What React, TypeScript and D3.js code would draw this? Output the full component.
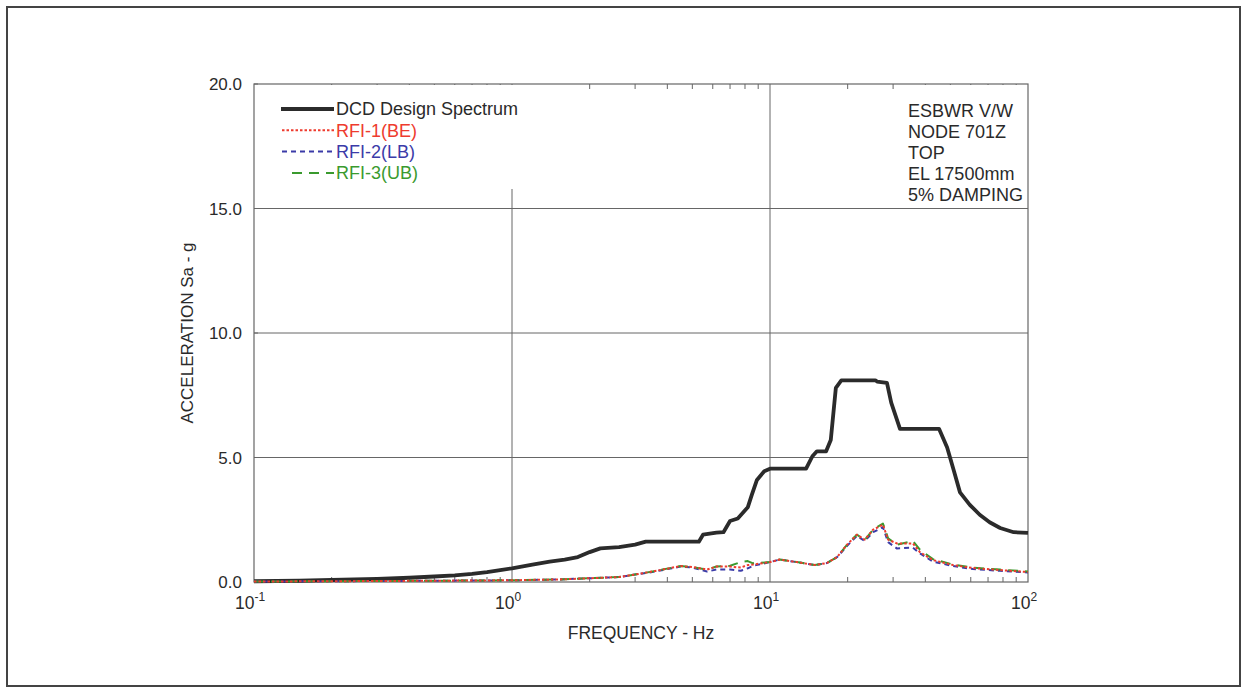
import React from "react";
import * as d3 from "d3";

const W = 1242;
const H = 688;

const xTickExps = [-1, 0, 1, 2];
const yTicks = [0, 5, 10, 15, 20];
const yTickLabels = ["0.0", "5.0", "10.0", "15.0", "20.0"];

const dcdFreq = [0.1, 0.15, 0.2, 0.3, 0.4, 0.5, 0.6, 0.7, 0.8, 0.9, 1.0, 1.2, 1.4, 1.6, 1.8, 2.0, 2.2, 2.6, 3.0, 3.3, 5.3, 5.5, 6.2, 6.6, 7.0, 7.5, 8.2, 8.5, 8.9, 9.5, 10, 13.8, 14.6, 15.2, 16.5, 17.2, 18.0, 18.9, 25.6, 26, 28.4, 29.5, 31.9, 45.2, 48.6, 51.5, 54.5, 59.5, 65, 71, 78, 88, 100];
const dcdValues = [0.03, 0.05, 0.08, 0.12, 0.17, 0.22, 0.27, 0.33, 0.4, 0.48, 0.55, 0.7, 0.82, 0.9, 1.0, 1.2, 1.35, 1.4, 1.5, 1.62, 1.62, 1.9, 1.98, 2.0, 2.45, 2.55, 3.0, 3.5, 4.1, 4.45, 4.55, 4.55, 5.05, 5.25, 5.25, 5.7, 7.8, 8.1, 8.1, 8.05, 8.0, 7.2, 6.15, 6.15, 5.4, 4.5, 3.6, 3.1, 2.7, 2.4, 2.17, 2.0, 1.97];

const rfiFreq = [0.1, 0.2, 0.3, 0.5, 0.7, 1.0, 1.5, 2.0, 2.6, 3.0, 3.5, 4.5, 5.0, 5.7, 6.2, 7.0, 7.7, 8.2, 8.6, 10, 10.9, 12.7, 14.9, 16.6, 18.2, 19.9, 21.7, 23.3, 25.1, 27.4, 28.7, 31, 35.8, 38.1, 42.8, 51.2, 61.2, 77.9, 100];
const rfi1Values = [0.02, 0.03, 0.04, 0.05, 0.06, 0.07, 0.1, 0.15, 0.2, 0.3, 0.42, 0.64, 0.6, 0.5, 0.62, 0.62, 0.58, 0.68, 0.7, 0.8, 0.9, 0.8, 0.68, 0.76, 1.0, 1.5, 1.9, 1.7, 2.1, 2.3, 1.7, 1.55, 1.55, 1.2, 0.88, 0.68, 0.56, 0.48, 0.4];
const rfi2Values = [0.02, 0.03, 0.04, 0.05, 0.06, 0.07, 0.1, 0.15, 0.2, 0.3, 0.4, 0.62, 0.58, 0.42, 0.5, 0.5, 0.45, 0.55, 0.65, 0.8, 0.9, 0.8, 0.68, 0.76, 1.0, 1.45, 1.85, 1.65, 2.0, 2.2, 1.6, 1.35, 1.38, 1.15, 0.82, 0.64, 0.52, 0.45, 0.38];
const rfi3Values = [0.02, 0.03, 0.04, 0.05, 0.06, 0.07, 0.1, 0.15, 0.2, 0.3, 0.42, 0.64, 0.6, 0.5, 0.62, 0.65, 0.8, 0.84, 0.75, 0.8, 0.9, 0.8, 0.68, 0.76, 1.0, 1.5, 1.9, 1.7, 2.1, 2.35, 1.75, 1.5, 1.65, 1.3, 0.92, 0.7, 0.58, 0.5, 0.42];

const legendLabels = ["DCD Design Spectrum", "RFI-1(BE)", "RFI-2(LB)", "RFI-3(UB)"];
const infoLines = ["ESBWR V/W", "NODE 701Z", "TOP", "EL 17500mm", "5% DAMPING"];

const FONT = "'Liberation Sans', Arial, sans-serif";
const TXT = "#2a2a2a";

export default function App() {
  const x0 = 254, x1 = 1028, y0 = 582, y1 = 84;
  const x = d3.scaleLog().domain([0.1, 100]).range([x0, x1]);
  const y = d3.scaleLinear().domain([0, 20]).range([y0, y1]);

  const mk = (fs: number[], vs: number[]) =>
    d3.line<number>().x((_, i) => x(fs[i])).y((v) => y(v)).curve(d3.curveLinear)(vs) || "";

  const minor: number[] = [];
  for (let e = -1; e < 2; e++) for (let k = 2; k <= 9; k++) minor.push(k * Math.pow(10, e));

  const series = [
    { d: mk(dcdFreq, dcdValues), color: "#2b2b2b", w: 3.8, dash: undefined as string | undefined },
    { d: mk(rfiFreq, rfi2Values), color: "#3b3ba8", w: 2, dash: "5,4" },
    { d: mk(rfiFreq, rfi3Values), color: "#3a9a2e", w: 2, dash: "10,7" },
    { d: mk(rfiFreq, rfi1Values), color: "#ee3b2e", w: 2, dash: "2.5,2" },
  ];
  const legendItems = [
    { label: legendLabels[0], color: "#2b2b2b", text: "#2a2a2a", w: 3.8, dash: undefined as string | undefined, xs: 281 },
    { label: legendLabels[1], color: "#ee3b2e", text: "#ee3b2e", w: 2, dash: "2.5,2", xs: 282 },
    { label: legendLabels[2], color: "#3b3ba8", text: "#3b3ba8", w: 2, dash: "5,4", xs: 282 },
    { label: legendLabels[3], color: "#3a9a2e", text: "#3a9a2e", w: 2, dash: "10,7", xs: 292 },
  ];

  return (
    <svg width={W} height={H} style={{ position: "absolute", left: 0, top: 0, background: "#fff" }} fontFamily={FONT}>
      <rect x={0} y={0} width={W} height={H} fill="#fff" />
      <rect x={7} y={7} width={1233} height={679} fill="none" stroke="#444" strokeWidth={2} />

      {/* grid */}
      {yTicks.slice(1, 4).map((t) => (
        <line key={"gy" + t} x1={x0} x2={x1} y1={y(t)} y2={y(t)} stroke="#666" strokeWidth={1} />
      ))}
      {xTickExps.slice(1, 3).map((e) => (
        <line key={"gx" + e} x1={x(Math.pow(10, e))} x2={x(Math.pow(10, e))} y1={y0} y2={y1} stroke="#666" strokeWidth={1} />
      ))}

      {/* minor ticks */}
      {minor.map((m) => (
        <g key={"m" + m}>
          <line x1={x(m)} x2={x(m)} y1={y0} y2={y0 - 5} stroke="#666" strokeWidth={1} />
          <line x1={x(m)} x2={x(m)} y1={y1} y2={y1 + 5} stroke="#666" strokeWidth={1} />
        </g>
      ))}
      {yTicks.map((t) => (
        <line key={"yt" + t} x1={x0} x2={x0 + 4} y1={y(t)} y2={y(t)} stroke="#666" strokeWidth={1} />
      ))}

      {/* legend and info boxes (cover grid) */}
      <rect x={x0 + 1} y={y1 + 1} width={276} height={104} fill="#fff" />
      <rect x={895} y={y1 + 1} width={132} height={122} fill="#fff" />

      {/* plot border */}
      <rect x={x0} y={y1} width={x1 - x0} height={y0 - y1} fill="none" stroke="#666" strokeWidth={1.2} />

      {/* series */}
      {series.map((s, i) => (
        <path key={"s" + i} d={s.d} fill="none" stroke={s.color} strokeWidth={s.w} strokeDasharray={s.dash} strokeLinejoin="round" />
      ))}

      {/* legend */}
      {legendItems.map((it, i) => {
        const ly = 109 + i * 21.3;
        return (
          <g key={"l" + i}>
            <line x1={it.xs} x2={334} y1={ly} y2={ly} stroke={it.color} strokeWidth={it.w} strokeDasharray={it.dash} />
            <text x={336} y={ly + 6.3} fontSize={18} fill={it.text}>{it.label}</text>
          </g>
        );
      })}

      {/* info */}
      {infoLines.map((t, i) => (
        <text key={"i" + i} x={908} y={116.5 + i * 21} fontSize={18} fill={TXT}>{t}</text>
      ))}

      {/* y tick labels */}
      {yTicks.map((t, i) => (
        <text key={"yl" + t} x={242} y={y(t) + 6} fontSize={17} textAnchor="end" fill={TXT}>{yTickLabels[i]}</text>
      ))}

      {/* x tick labels */}
      {xTickExps.map((e) => (
        <text key={"xl" + e} x={x(Math.pow(10, e)) - 4} y={609} fontSize={17.5} textAnchor="middle" fill={TXT}>
          10
          <tspan dy={-8} fontSize={12}>{e}</tspan>
        </text>
      ))}

      {/* axis titles */}
      <text x={641} y={639} fontSize={17.5} textAnchor="middle" fill={TXT}>FREQUENCY - Hz</text>
      <text transform={`translate(193,333) rotate(-90)`} fontSize={17} textAnchor="middle" fill={TXT}>ACCELERATION Sa - g</text>
    </svg>
  );
}
